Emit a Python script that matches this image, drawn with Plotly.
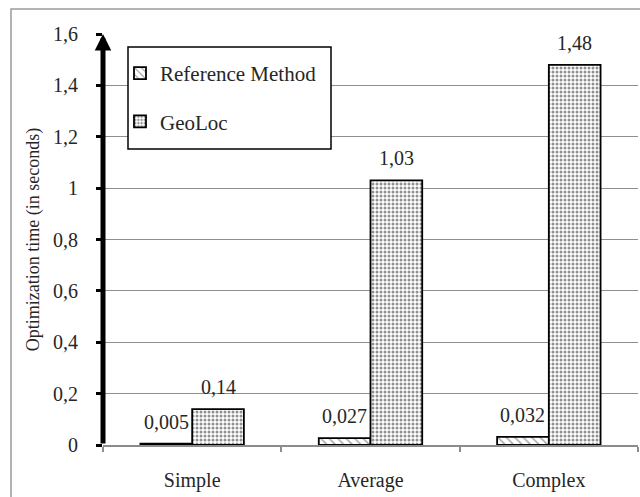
import plotly.graph_objects as go

categories = ["Simple", "Average", "Complex"]
series_names = ["Reference Method", "GeoLoc"]
reference_values = [0.005, 0.027, 0.032]
geoloc_values = [0.14, 1.03, 1.48]
y_ticks = [0, 0.2, 0.4, 0.6, 0.8, 1.0, 1.2, 1.4, 1.6]
y_tick_labels = ["0", "0,2", "0,4", "0,6", "0,8", "1", "1,2", "1,4", "1,6"]
y_title = "Optimization time (in seconds)"

FONT = "Liberation Serif, Times New Roman, serif"
TXT = "#262626"

W, H = 640, 497
L, R, T, B = 103, 2, 34, 52
pw, ph = W - L - R, H - T - B
BARGAP = 0.42
bar_w = (pw / len(categories)) * (1 - BARGAP) / 2


def px_x(x):
    """page pixel x -> paper coordinate"""
    return (x - L) / pw


def px_y(y):
    """page pixel y -> paper coordinate"""
    return (H - B - y) / ph


def lab(v):
    return str(v).replace(".", ",")


fig = go.Figure()
fig.add_trace(go.Bar(
    x=categories, y=reference_values, name=series_names[0],
    marker=dict(color="white", line=dict(color="black", width=1.8),
                pattern=dict(shape="\\", fgcolor="#444444", bgcolor="white",
                             size=6, solidity=0.25)),
    legendgroup="a",
))
fig.add_trace(go.Bar(
    x=categories, y=geoloc_values, name=series_names[1],
    marker=dict(color="white", line=dict(color="black", width=1.8),
                pattern=dict(shape=".", fgcolor="#222222", bgcolor="white",
                             size=4, solidity=0.45)),
    legendgroup="b",
))

annotations = []
for series, shift in ((reference_values, -bar_w / 2), (geoloc_values, bar_w / 2)):
    for c, v in zip(categories, series):
        annotations.append(dict(
            x=c, y=v, xref="x", yref="y", text=lab(v), showarrow=False,
            xanchor="center", yanchor="bottom", xshift=shift, yshift=9,
            font=dict(family=FONT, size=20, color=TXT),
        ))

annotations.append(dict(
    xref="paper", yref="y", x=0, y=y_ticks[-1],
    axref="pixel", ayref="y", ax=0, ay=y_ticks[0],
    showarrow=True, arrowhead=2, arrowwidth=5, arrowsize=0.66,
    arrowcolor="black", standoff=0, startstandoff=0, text="",
))

fig.update_layout(
    width=W, height=H,
    margin=dict(l=L, r=R, t=T, b=B),
    paper_bgcolor="white", plot_bgcolor="white",
    barmode="group", bargap=BARGAP, bargroupgap=0,
    font=dict(family=FONT, size=20, color=TXT),
    showlegend=True,
    legend=dict(
        x=px_x(120), y=px_y(53), xanchor="left", yanchor="top",
        bgcolor="rgba(0,0,0,0)", borderwidth=0,
        font=dict(family=FONT, size=21, color=TXT),
        traceorder="grouped", tracegroupgap=18,
    ),
    xaxis=dict(
        showline=True, linecolor="#8c8c8c", linewidth=1.5,
        ticks="outside", tickson="boundaries", ticklen=5, tickwidth=1.5,
        tickcolor="#8c8c8c", showgrid=False, ticklabelstandoff=16,
        tickfont=dict(family=FONT, size=20, color=TXT),
    ),
    yaxis=dict(
        range=[0, 1.6], tickvals=y_ticks, ticktext=y_tick_labels,
        showgrid=True, gridcolor="#8f8f8f", gridwidth=1.3,
        zeroline=False, showline=False,
        ticks="outside", ticklen=6, tickwidth=3, tickcolor="black",
        ticklabelstandoff=14,
        tickfont=dict(family=FONT, size=20, color=TXT),
        title=dict(text=y_title, font=dict(family=FONT, size=18, color=TXT),
                   standoff=8),
    ),
    shapes=[
        dict(type="rect", xref="paper", yref="paper",
             x0=px_x(11), x1=px_x(645), y0=px_y(9), y1=px_y(505),
             line=dict(color="#9a9a9a", width=1.5), fillcolor="rgba(0,0,0,0)",
             layer="below"),
        dict(type="rect", xref="paper", yref="paper",
             x0=px_x(128), x1=px_x(331), y0=px_y(47), y1=px_y(149),
             line=dict(color="black", width=1.5), fillcolor="white",
             layer="above"),
    ],
    annotations=annotations,
)

fig.write_html(
    "out.html",
    config={"displayModeBar": False},
    post_script="document.body.style.margin='0';document.body.style.overflow='hidden';",
)
